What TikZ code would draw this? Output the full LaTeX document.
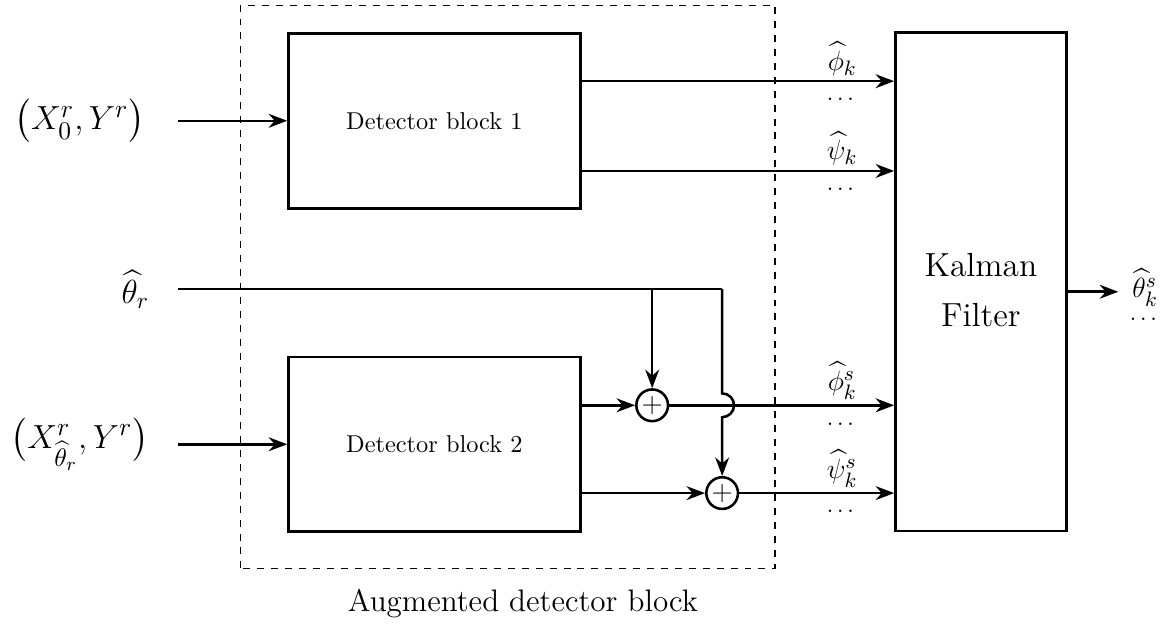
\documentclass[tikz,border=0pt]{standalone}
\usepackage{amsmath,amssymb}
\usetikzlibrary{arrows.meta}
\begin{document}
\begin{tikzpicture}[
  block/.style={draw, line width=1.1pt, minimum width=4.42cm, minimum height=2.65cm, inner sep=0pt, font=\fontsize{10.5}{12}\selectfont},
  sumnode/.style={draw, line width=1.1pt, circle, minimum size=0.48cm, inner sep=0pt, font=\large},
  sig/.style={line width=1.1pt, -{Stealth[length=2.8mm,width=2.1mm]}},
  lbl/.style={font=\fontsize{13}{15}\selectfont},
  inlbl/.style={font=\fontsize{15.6}{18}\selectfont}
]
\useasboundingbox (0,0) rectangle (17.80,9.44);
 % augmented detector
 \draw[dashed, semithick] (3.64,0.83) rectangle (11.74,9.36);
 \node[font=\fontsize{13.4}{16}\selectfont] (aug) at (7.92,0.30) {Augmented detector block};
 \node[block] (det1) at (6.58,7.61) {Detector block 1};
 \node[block] (det2) at (6.58,2.71) {Detector block 2};
 \node[sumnode] (sum1) at (9.88,3.30) {$+$};
 \node[sumnode] (sum2) at (10.94,1.97) {$+$};
 % kalman filter
 \node[draw, line width=1.1pt, minimum width=2.59cm, minimum height=7.55cm] (kf) at (14.86,5.17) {};
 \node[align=center, font=\Large] (kftxt) at ([yshift=-0.13cm]kf.center) {Kalman\\[3.5pt]Filter};
 % inputs
 \node[inlbl] (in1) at (1.21,7.61) {$\bigl(X_0^r,Y^r\bigr)$};
 \node[font=\Large] (th) at (2.05,5.05) {$\widehat{\theta}_r$};
 \node[inlbl] (in2) at (1.21,2.71) {$\bigl(X_{\widehat{\theta}_r}^r,Y^r\bigr)$};
 \coordinate (in1s) at (2.70,7.61);
 \coordinate (in2s) at (2.70,2.71);
 \coordinate (ths) at (2.70,5.06);
 \coordinate (thc) at (10.94,5.06);
 \draw[sig] (in1s) -- (det1.west);
 \draw[sig] (in2s) -- (det2.west);
 % detector 1 outputs
 \draw[sig] ([yshift=0.6cm]det1.east) -- ([yshift=0.6cm]det1.east -| kf.west);
 \draw[sig] ([yshift=-0.76cm]det1.east) -- ([yshift=-0.76cm]det1.east -| kf.west);
 % detector 2 outputs through the adders
 \draw[sig] (det2.east |- sum1) -- (sum1);
 \draw[sig] ([yshift=-0.74cm]det2.east) -- (sum2);
 \draw[sig] (sum1) -- (sum1 -| kf.west);
 \draw[sig] (sum2) -- (sum2 -| kf.west);
 % rotation estimate, jumping over the upper adder output
 \coordinate (jmp) at (sum1 -| thc);
 \draw[line width=1.1pt] (ths) -- (thc);
 \draw[sig] (sum1 |- thc) -- (sum1);
 \draw[sig] (thc) -- ([yshift=0.18cm]jmp) arc (90:-90:0.18) -- (sum2);
 % output labels
 \node[lbl] (phik) at (12.76,8.55) {$\widehat{\phi}_k$};
 \node (phid) at (12.76,7.93) {$\dots$};
 \node[lbl] (psik) at (12.76,7.19) {$\widehat{\psi}_k$};
 \node (psid) at (12.76,6.57) {$\dots$};
 \node[lbl] (phis) at (12.76,3.67) {$\widehat{\phi}^s_k$};
 \node (phisd) at (12.76,3.02) {$\dots$};
 \node[lbl] (psis) at (12.76,2.34) {$\widehat{\psi}^s_k$};
 \node (psisd) at (12.76,1.69) {$\dots$};
 % filter output
 \coordinate (kfo) at (16.94,5.02);
 \draw[sig] (kfo -| kf.east) -- (kfo);
 \node[lbl] (thsk) at (17.35,5.08) {$\widehat{\theta}^s_k$};
 \node (thsd) at (17.35,4.60) {$\dots$};
\end{tikzpicture}
\end{document}
